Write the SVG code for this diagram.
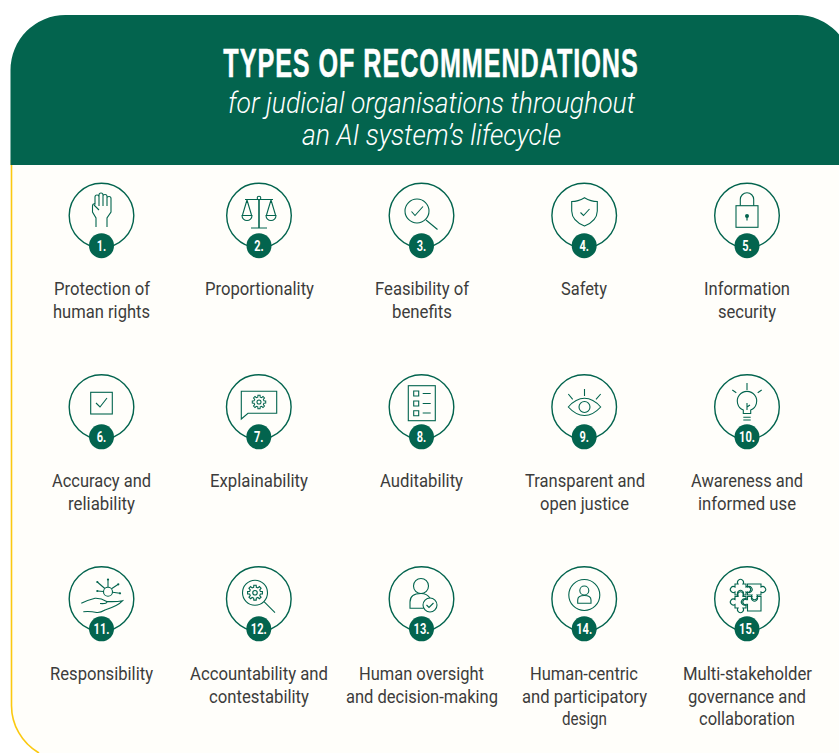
<svg xmlns="http://www.w3.org/2000/svg" xmlns:xlink="http://www.w3.org/1999/xlink" width="839" height="753" viewBox="0 0 839 753">
<style>
.ring{fill:none;stroke:#03644e;stroke-width:1.4}
.badge{fill:#03644e}
.num{font:700 15px Roboto,"Liberation Sans",sans-serif;fill:#fff;text-anchor:middle}
.ic{fill:none;stroke:#03644e;stroke-width:1.1;stroke-linejoin:miter}
.lb{font:400 18px Roboto,"Liberation Sans",sans-serif;fill:#3c3c3b;text-anchor:middle}
.gear{fill:none;stroke:#03644e;stroke-width:1.5}
</style>
<defs>
<g id="gear"><path class="gear" d="M9.88,1.56 7.18,1.79 6.34,3.81 8.09,5.88 5.88,8.09 3.81,6.34 1.79,7.18 1.56,9.88 -1.56,9.88 -1.79,7.18 -3.81,6.34 -5.88,8.09 -8.09,5.88 -6.34,3.81 -7.18,1.79 -9.88,1.56 -9.88,-1.56 -7.18,-1.79 -6.34,-3.81 -8.09,-5.88 -5.88,-8.09 -3.81,-6.34 -1.79,-7.18 -1.56,-9.88 1.56,-9.88 1.79,-7.18 3.81,-6.34 5.88,-8.09 8.09,-5.88 6.34,-3.81 7.18,-1.79 9.88,-1.56Z"/><circle class="gear" r="3"/></g>
</defs>
<rect width="839" height="753" fill="#fff"/>
<g id="panel">
<path d="M11,160 V705 A55,55 0 0 0 39,753 H839 V160 Z" fill="#fffefa" stroke="none"/>
<path d="M11.5,160 V705 A55,55 0 0 0 39,753" fill="none" stroke="#fbc911" stroke-width="1.6"/>
<path d="M10.5,165 V70 A55,55 0 0 1 65.500,15 H797 A55,55 0 0 1 852,70 V165 Z" fill="#03644e"/>
</g>
<g id="title">
<text transform="translate(431,76.500) scale(.63,1)" text-anchor="middle" stroke="#fff" stroke-width=".5" style="font:700 40px 'Liberation Sans',sans-serif;letter-spacing:1.5px" fill="#fff">TYPES OF RECOMMENDATIONS</text>
<text x="431.500" y="113" text-anchor="middle" textLength="407" lengthAdjust="spacingAndGlyphs" style="font:italic 300 30px Roboto,sans-serif" fill="#fff">for judicial organisations throughout</text>
<text x="431.500" y="145" text-anchor="middle" textLength="259" lengthAdjust="spacingAndGlyphs" style="font:italic 300 30px Roboto,sans-serif" fill="#fff">an AI system’s lifecycle</text>
</g>

<g id="n1"><circle class="ring" cx="101.500" cy="215.500" r="32.300"/><path class="ic" d="M96,227 V218 L92.500,212 V206 Q92.500,203.500 95,204 V197 Q95,195 97,195 Q99,195 99,197 V195 Q99,193 101,193 Q103,193 103,195 V196 Q103,194.500 105,194.500 Q107,194.500 107,196.500 V198 Q107,196.500 109,196.500 Q111,196.500 111,198.500 V212 L107,218 V227 M99,197 V206 M103,195 V206 M107,197 V206 M94,205 L99,210"/><circle class="badge" cx="101.500" cy="245.700" r="12.500"/><text class="num" x="101.500" y="251" textLength="9.500" lengthAdjust="spacingAndGlyphs">1.</text><text class="lb" x="102" y="295" textLength="96" lengthAdjust="spacingAndGlyphs">Protection of</text><text class="lb" x="101.500" y="318" textLength="97" lengthAdjust="spacingAndGlyphs">human rights</text></g>

<g id="n2"><circle class="ring" cx="259" cy="215.500" r="32.300"/><path class="ic" d="M245,199.500 H273 M251,228 H267 M247,200 L242.500,215 M247,200 L251.500,215 M271,200 L266.500,215 M271,200 L275.500,215 M242,215.500 H252 A5,5 0 0 1 242,215.500 Z M266,215.500 H276 A5,5 0 0 1 266,215.500 Z"/><path d="M259,199 V228" stroke="#03644e" stroke-width="1.6" fill="none"/><circle class="ic" cx="259" cy="198" r="1.800"/><circle class="badge" cx="259" cy="245.700" r="12.500"/><text class="num" x="259" y="251" textLength="9.500" lengthAdjust="spacingAndGlyphs">2.</text><text class="lb" x="259.500" y="295" textLength="109" lengthAdjust="spacingAndGlyphs">Proportionality</text></g>

<g id="n3"><circle class="ring" cx="421.500" cy="215.500" r="32.300"/><circle class="ic" cx="417" cy="211" r="12"/><path class="ic" d="M426,220 L437.500,229.500 M411.500,211.500 L415,215.500 L423,206.500"/><circle class="badge" cx="421.500" cy="245.700" r="12.500"/><text class="num" x="421.500" y="251" textLength="9.500" lengthAdjust="spacingAndGlyphs">3.</text><text class="lb" x="422" y="295" textLength="94" lengthAdjust="spacingAndGlyphs">Feasibility of</text><text class="lb" x="422" y="318" textLength="60" lengthAdjust="spacingAndGlyphs">benefits</text></g>

<g id="n4"><circle class="ring" cx="584.200" cy="215.500" r="32.300"/><path class="ic" d="M584.500,197.700 Q578,201.500 571.700,201.500 V211 Q572,221 584.500,226 Q597,221 597.300,211 V201.500 Q591,201.500 584.500,197.700 Z M580.500,212.500 L583.500,215.500 L589.500,209"/><circle class="badge" cx="584.200" cy="245.700" r="12.500"/><text class="num" x="584.200" y="251" textLength="9.500" lengthAdjust="spacingAndGlyphs">4.</text><text class="lb" x="584" y="295" textLength="46" lengthAdjust="spacingAndGlyphs">Safety</text></g>

<g id="n5"><circle class="ring" cx="747" cy="215.500" r="32.300"/><rect class="ic" x="736" y="205.700" width="22" height="21.600"/><path class="ic" d="M740.300,205.700 V199.500 A6.700,6.700 0 0 1 753.700,199.500 V205.700"/><circle class="badge" cx="747" cy="216" r="2"/><path d="M747,216 V220.500" stroke="#03644e" stroke-width="1.200"/><circle class="badge" cx="747" cy="245.700" r="12.500"/><text class="num" x="747" y="251" textLength="9.500" lengthAdjust="spacingAndGlyphs">5.</text><text class="lb" x="747" y="295" textLength="86" lengthAdjust="spacingAndGlyphs">Information</text><text class="lb" x="747" y="318" textLength="58" lengthAdjust="spacingAndGlyphs">security</text></g>

<g id="n6"><circle class="ring" cx="101.500" cy="407" r="32.300"/><rect class="ic" x="90.700" y="392.300" width="21.600" height="21.700"/><path class="ic" d="M96,403 L100,407 L107,398"/><circle class="badge" cx="101.500" cy="436.800" r="12.500"/><text class="num" x="101.500" y="442" textLength="9.500" lengthAdjust="spacingAndGlyphs">6.</text><text class="lb" x="101.500" y="487" textLength="99" lengthAdjust="spacingAndGlyphs">Accuracy and</text><text class="lb" x="101.500" y="510" textLength="67" lengthAdjust="spacingAndGlyphs">reliability</text></g>

<g id="n7"><circle class="ring" cx="258.800" cy="407" r="32.300"/><path class="ic" d="M241.300,391.300 H276.700 V413.300 H248 L241.300,419 Z"/><use xlink:href="#gear" href="#gear" transform="translate(259,402) scale(.68)"/><circle class="badge" cx="258.800" cy="436.800" r="12.500"/><text class="num" x="258.800" y="442" textLength="9.500" lengthAdjust="spacingAndGlyphs">7.</text><text class="lb" x="259" y="487" textLength="98" lengthAdjust="spacingAndGlyphs">Explainability</text></g>

<g id="n8"><circle class="ring" cx="421.500" cy="407" r="32.300"/><rect class="ic" x="408.300" y="385.700" width="27" height="35"/><path class="ic" d="M413.700,391 h5 v5 h-5 Z M413.700,401 h5 v5 h-5 Z M413.700,410.700 h5 v5 h-5 Z M422.700,393.500 h8 M422.700,403.500 h8 M422.700,413 h8"/><circle class="badge" cx="421.500" cy="436.800" r="12.500"/><text class="num" x="421.500" y="442" textLength="9.500" lengthAdjust="spacingAndGlyphs">8.</text><text class="lb" x="421.500" y="487" textLength="83" lengthAdjust="spacingAndGlyphs">Auditability</text></g>

<g id="n9"><circle class="ring" cx="584.200" cy="407" r="32.300"/><path class="ic" d="M568.300,407 Q576,398.300 584.500,398.300 Q593,398.300 600.700,407 Q593,415.500 584.500,415.500 Q576,415.500 568.300,407 Z M584.500,389 V396 M568.300,394 L572.700,399.300 M600.700,394 L596,399.300"/><circle class="ic" cx="584.500" cy="407" r="5.500"/><circle class="badge" cx="584.200" cy="436.800" r="12.500"/><text class="num" x="584.200" y="442" textLength="9.500" lengthAdjust="spacingAndGlyphs">9.</text><text class="lb" x="585" y="487" textLength="120" lengthAdjust="spacingAndGlyphs">Transparent and</text><text class="lb" x="584.500" y="510" textLength="89" lengthAdjust="spacingAndGlyphs">open justice</text></g>

<g id="n10"><circle class="ring" cx="747" cy="407" r="32.300"/><path class="ic" d="M743.300,413.500 V410 A9.700,9.700 0 1 1 750.700,410 V413.500 Z M743.300,417.300 H750.700 M743.300,420 H750.700 M747,383 V390 M732.300,390 L736.300,392.700 M761.700,390 L757.700,392.700 M747,403 V410 M747,407 L750,405"/><circle class="badge" cx="747" cy="436.800" r="12.500"/><text class="num" x="747" y="442" textLength="16" lengthAdjust="spacingAndGlyphs">10.</text><text class="lb" x="747" y="487" textLength="112" lengthAdjust="spacingAndGlyphs">Awareness and</text><text class="lb" x="747" y="510" textLength="98" lengthAdjust="spacingAndGlyphs">informed use</text></g>

<g id="n11"><circle class="ring" cx="101.500" cy="599" r="32.300"/><circle class="ic" cx="108" cy="591.700" r="4.500"/><path class="ic" d="M108,587 V579.500 M111.500,588.800 L118.300,584.300 M112.500,592.300 L120,593.300 M103.500,591.500 L97.300,591 M104.800,588.500 L97.300,582 M81.300,603.300 Q88,600 95,598.300 Q101,598 106.700,601.500 Q108,604 100,603.500 M107,601.500 Q116,602 122.700,600.700 Q118,606 105,610 Q100,613 96.700,612.500 Q90,611 83.300,611.700"/><g class="badge"><circle cx="108" cy="579.500" r="1.100"/><circle cx="118.300" cy="584.300" r="1.100"/><circle cx="120" cy="593.300" r="1.100"/><circle cx="97.300" cy="591" r="1.100"/><circle cx="97.300" cy="582" r="1.100"/></g><circle class="badge" cx="101.500" cy="628.800" r="12.500"/><text class="num" x="101.500" y="634" textLength="16" lengthAdjust="spacingAndGlyphs">11.</text><text class="lb" x="101.500" y="680" textLength="103" lengthAdjust="spacingAndGlyphs">Responsibility</text></g>

<g id="n12"><circle class="ring" cx="258.800" cy="599" r="32.300"/><circle class="ic" cx="255" cy="592.700" r="12.500"/><use xlink:href="#gear" href="#gear" transform="translate(255,592.700) scale(.75)"/><path class="ic" d="M264,601.700 L275,612.700"/><circle class="badge" cx="258.800" cy="628.800" r="12.500"/><text class="num" x="258.800" y="634" textLength="16" lengthAdjust="spacingAndGlyphs">12.</text><text class="lb" x="259" y="680" textLength="138" lengthAdjust="spacingAndGlyphs">Accountability and</text><text class="lb" x="259" y="703" textLength="100" lengthAdjust="spacingAndGlyphs">contestability</text></g>

<g id="n13"><circle class="ring" cx="421.500" cy="599" r="32.300"/><circle class="ic" cx="421" cy="586" r="7.500"/><path class="ic" d="M423.500,608.300 H410 V602 Q410,593.500 421,593.500 Q427,593.500 430,598"/><circle class="ic" cx="430" cy="605" r="7"/><path class="ic" d="M426.500,605 L429,607.500 L433.500,603"/><circle class="badge" cx="421.500" cy="628.800" r="12.500"/><text class="num" x="421.500" y="634" textLength="16" lengthAdjust="spacingAndGlyphs">13.</text><text class="lb" x="421.500" y="680" textLength="125" lengthAdjust="spacingAndGlyphs">Human oversight</text><text class="lb" x="422" y="703" textLength="152" lengthAdjust="spacingAndGlyphs">and decision-making</text></g>

<g id="n14"><circle class="ring" cx="584.200" cy="599" r="32.300"/><circle class="ic" cx="584.300" cy="595" r="15.500"/><circle class="ic" cx="584.300" cy="590.500" r="4.500"/><path class="ic" d="M577.700,603.300 H591 V600 Q591,595.500 584.300,595.500 Q577.700,595.500 577.700,600 Z"/><circle class="badge" cx="584.200" cy="628.800" r="12.500"/><text class="num" x="584.200" y="634" textLength="16" lengthAdjust="spacingAndGlyphs">14.</text><text class="lb" x="584" y="680" textLength="108" lengthAdjust="spacingAndGlyphs">Human-centric</text><text class="lb" x="584.500" y="703" textLength="125" lengthAdjust="spacingAndGlyphs">and participatory</text><text class="lb" x="584.500" y="725" textLength="45" lengthAdjust="spacingAndGlyphs">design</text></g>

<g id="n15"><circle class="ring" cx="747" cy="599" r="32.300"/><path class="ic" d="M735,584 H738 A3,3 0 1 1 743,584 H746 V587 A3,3 0 1 1 746,592 V595 H743 A3,3 0 1 0 738,595 H735 V592 A3,3 0 1 1 735,587 Z"/><path class="ic" d="M747.500,584 H761 V587 A3,3 0 1 1 761,592 V595 H757 A3,3 0 1 1 752,595 H747.500 V592 A3,3 0 1 0 747.500,587 Z"/><path class="ic" d="M735,596.500 H738 A3,3 0 1 1 743,596.500 H746 V599.500 A3,3 0 1 0 746,604.500 V608 H743 A3,3 0 1 1 738,608 H735 V604.500 A3,3 0 1 1 735,599.500 Z"/><path class="ic" d="M747.500,596.500 H752 A3,3 0 1 0 757,596.500 H761 V611 H747.500 V604.500 A3,3 0 1 1 747.500,599.500 Z"/><circle class="badge" cx="747" cy="628.800" r="12.500"/><text class="num" x="747" y="634" textLength="16" lengthAdjust="spacingAndGlyphs">15.</text><text class="lb" x="747.500" y="680" textLength="129" lengthAdjust="spacingAndGlyphs">Multi-stakeholder</text><text class="lb" x="747" y="703" textLength="118" lengthAdjust="spacingAndGlyphs">governance and</text><text class="lb" x="747" y="725" textLength="96" lengthAdjust="spacingAndGlyphs">collaboration</text></g>
</svg>
